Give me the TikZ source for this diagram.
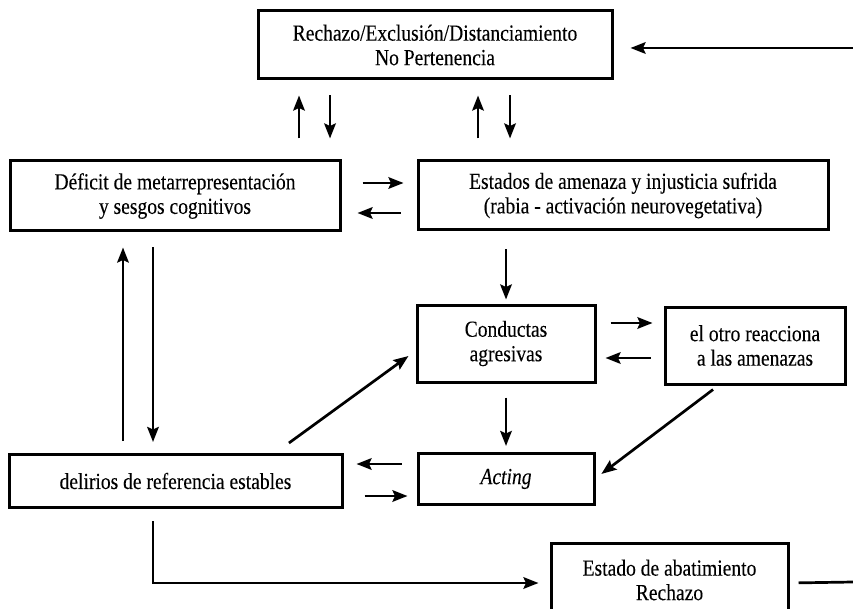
\documentclass[tikz,border=0pt]{standalone}
\usepackage{fontspec}
\setmainfont{Liberation Serif}[FakeStretch=0.85,FakeBold=0.12]
\usetikzlibrary{arrows.meta}

\tikzset{
  box/.style={draw, line width=3pt, inner sep=0pt, align=center,
    font=\fontsize{23}{24.5}\selectfont},
  arr/.style={line width=2.7pt, -{Stealth[length=15pt,width=11.5pt,inset=2.5pt]}},
  plain/.style={line width=2.7pt},
}

\begin{document}
\begin{tikzpicture}[x=1pt,y=-1pt]
\clip (0,0) rectangle (853,609);
\fill[white] (0,0) rectangle (853,609);

% boxes
\node[box, minimum width=354pt, minimum height=68pt] (rech) at (435,45)
  {Rechazo/Exclusión/Distanciamiento\\No Pertenencia};
\node[box, minimum width=330pt, minimum height=70pt] (def) at (175,196)
  {Déficit de metarrepresentación\\y sesgos cognitivos};
\node[box, minimum width=410pt, minimum height=69pt] (est) at (623,195.5)
  {Estados de amenaza y injusticia sufrida\\(rabia - activación neurovegetativa)};
\node[box, minimum width=178pt, minimum height=77pt] (cond) at (506,343.5)
  {Conductas\\agresivas};
\node[box, minimum width=180pt, minimum height=77pt] (otro) at (755,345.5)
  {el otro reacciona\\a las amenazas};
\node[box, minimum width=333pt, minimum height=53pt] (deli) at (175.5,481)
  {delirios de referencia estables};
\node[box, minimum width=176pt, minimum height=51pt] (act) at (506,479)
  {\itshape Acting};
\node[box, minimum width=237pt, minimum height=74pt] (abat) at (669.5,580)
  {Estado de abatimiento\\Rechazo};

% free ends at the right margin
\coordinate (inR) at (853,48);
\coordinate (outR) at (853,582);

% incoming arrow on the right
\draw[arr, shorten >=17pt] (inR) -- (inR -| rech.east);

% Rechazo <-> Deficit
\draw[arr, shorten <=21pt, shorten >=15pt] ([xshift=-136pt]rech.south |- def.north) -- ([xshift=-136pt]rech.south);
\draw[arr, shorten <=15pt, shorten >=21pt] ([xshift=-105pt]rech.south) -- ([xshift=-105pt]rech.south |- def.north);
% Rechazo <-> Estados
\draw[arr, shorten <=21pt, shorten >=15pt] ([xshift=43pt]rech.south |- est.north) -- ([xshift=43pt]rech.south);
\draw[arr, shorten <=15pt, shorten >=21pt] ([xshift=75pt]rech.south) -- ([xshift=75pt]rech.south |- est.north);

% Deficit <-> Estados
\draw[arr, shorten <=21pt, shorten >=13pt] ([yshift=13pt]def.east) -- ([yshift=13pt]def.east -| est.west);
\draw[arr, shorten <=16pt, shorten >=16pt] ([yshift=-17pt]def.east -| est.west) -- ([yshift=-17pt]def.east);

% Estados -> Conductas
\draw[arr, shorten <=18pt, shorten >=4pt] (cond.north |- est.south) -- (cond.north);

% Conductas <-> el otro
\draw[arr, shorten <=14pt, shorten >=11pt] ([yshift=20.5pt]cond.east) -- ([yshift=20.5pt]cond.east -| otro.west);
\draw[arr, shorten <=13pt, shorten >=9pt] ([yshift=-14.5pt]cond.east -| otro.west) -- ([yshift=-14.5pt]cond.east);

% Deficit <-> delirios
\draw[arr, shorten <=12pt, shorten >=15pt] ([xshift=-52pt]def.south |- deli.north) -- ([xshift=-52pt]def.south);
\draw[arr, shorten <=15pt, shorten >=11pt] ([xshift=-22pt]def.south) -- ([xshift=-22pt]def.south |- deli.north);

% delirios -> Conductas
\draw[arr, shorten <=17pt, shorten >=8.7pt] ([xshift=99.7pt]deli.north) -- ([yshift=-7.4pt]cond.west);

% el otro -> Acting
\draw[arr, shorten <=6.7pt, shorten >=7.4pt] ([xshift=-36.6pt]otro.south) -- ([yshift=0.6pt]act.east);

% Conductas -> Acting
\draw[arr, shorten <=14pt, shorten >=6pt] (cond.south) -- (cond.south |- act.north);

% Acting <-> delirios
\draw[arr, shorten <=15pt, shorten >=13pt] ([yshift=15pt]act.west) -- ([yshift=15pt]act.west -| deli.east);
\draw[arr, shorten <=21pt, shorten >=9pt] ([yshift=-17pt]act.west -| deli.east) -- ([yshift=-17pt]act.west);

% delirios -> Estado de abatimiento
\draw[arr, shorten <=12pt, shorten >=11pt] ([xshift=-22.5pt]deli.south) |- ([yshift=-3pt]abat.west);

% Estado de abatimiento -> right margin
\draw[plain, shorten <=9pt] ([yshift=-3pt]abat.east) -- (outR);
\end{tikzpicture}
\end{document}
